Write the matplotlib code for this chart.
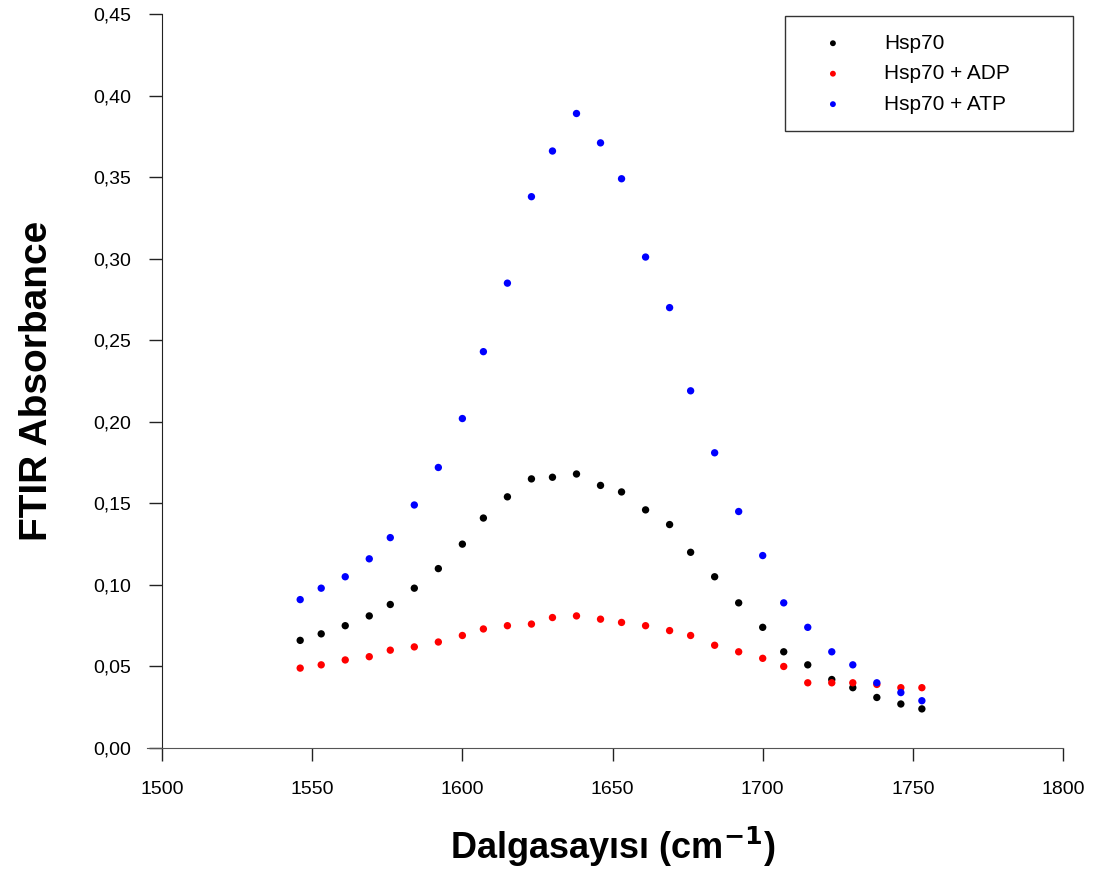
import numpy as np
import matplotlib
matplotlib.use("Agg")
import matplotlib.pyplot as plt
from matplotlib.ticker import FuncFormatter

plt.rcParams["font.family"] = ["Liberation Sans", "DejaVu Sans"]

wavenumber = [1546, 1553, 1561, 1569, 1576, 1584, 1592, 1600, 1607, 1615,
              1623, 1630, 1638, 1646, 1653, 1661, 1669, 1676, 1684, 1692,
              1700, 1707, 1715, 1723, 1730, 1738, 1746, 1753]

hsp70 = [0.066, 0.070, 0.075, 0.081, 0.088, 0.098, 0.110, 0.125, 0.141, 0.154,
         0.165, 0.166, 0.168, 0.161, 0.157, 0.146, 0.137, 0.120, 0.105, 0.089,
         0.074, 0.059, 0.051, 0.042, 0.037, 0.031, 0.027, 0.024]

hsp70_adp = [0.049, 0.051, 0.054, 0.056, 0.060, 0.062, 0.065, 0.069, 0.073, 0.075,
             0.076, 0.080, 0.081, 0.079, 0.077, 0.075, 0.072, 0.069, 0.063, 0.059,
             0.055, 0.050, 0.040, 0.040, 0.040, 0.039, 0.037, 0.037]

hsp70_atp = [0.091, 0.098, 0.105, 0.116, 0.129, 0.149, 0.172, 0.202, 0.243, 0.285,
             0.338, 0.366, 0.389, 0.371, 0.349, 0.301, 0.270, 0.219, 0.181, 0.145,
             0.118, 0.089, 0.074, 0.059, 0.051, 0.040, 0.034, 0.029]

series = [
    ("Hsp70", hsp70, "black"),
    ("Hsp70 + ADP", hsp70_adp, "red"),
    ("Hsp70 + ATP", hsp70_atp, "blue"),
]

fig = plt.figure(figsize=(11, 8.75), dpi=100)
ax = fig.add_axes([0.1473, 0.1451, 0.8191, 0.8389])

for label, vals, color in series:
    ax.scatter(wavenumber, vals, s=28, color=color, label=label,
               edgecolors="none", zorder=3)

ax.set_xlim(1500, 1800)
ax.set_ylim(0, 0.45)
ax.set_xticks(np.arange(1500, 1801, 50))
ax.set_yticks(np.arange(0, 0.451, 0.05))
ax.yaxis.set_major_formatter(FuncFormatter(lambda v, p: f"{v:.2f}".replace(".", ",")))

for side in ["top", "right"]:
    ax.spines[side].set_visible(False)
ax.spines["left"].set_color("#222222")
ax.spines["bottom"].set_color("#555555")
ax.spines["bottom"].set_bounds(1495, 1800)  # x axis line runs a bit past the y axis

ax.tick_params(axis="y", direction="out", length=9.5, width=1.0,
               labelsize=14, pad=13, color="#222222")
ax.tick_params(axis="x", direction="out", length=9.5, width=1.0,
               labelsize=14, pad=14, color="#222222")

ax.set_ylabel("FTIR Absorbance", fontsize=28, fontweight="bold")
ax.yaxis.set_label_coords(-0.119, 0.5)
ax.set_xlabel("Dalgasayısı (cm$^{\\mathbf{-1}}$)", fontsize=26,
              fontweight="bold")
ax.xaxis.set_label_coords(0.5, -0.104)

leg = ax.legend(loc="upper left",
                bbox_to_anchor=(785 / 1100, (875 - 128) / 875, 288 / 1100, 112 / 875),
                bbox_transform=fig.transFigure, mode="expand",
                fontsize=15, frameon=True, fancybox=False, edgecolor="black",
                handletextpad=1.0, borderpad=0.85, labelspacing=0.55,
                markerscale=0.8, handlelength=2.9, borderaxespad=0)
leg.get_frame().set_linewidth(1.0)

fig.savefig("out.png", dpi=100)
